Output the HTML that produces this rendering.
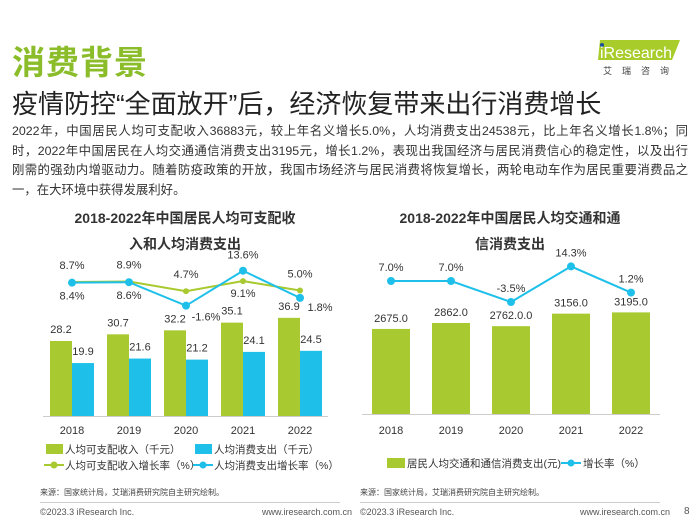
<!DOCTYPE html>
<html><head><meta charset="utf-8">
<style>
body{margin:0;width:700px;height:525px;background:#fff;font-family:"Liberation Sans","Noto Sans CJK SC",sans-serif;overflow:hidden;position:relative}
.abs{position:absolute;white-space:nowrap}
.pl{width:676px;text-align:justify;text-align-last:justify;white-space:nowrap;height:19.5px}
</style></head><body>
<div class="abs" style="left:12px;top:36px;font-size:33px;color:#8bbd2a;font-weight:bold;letter-spacing:1px">消费背景</div>
<div class="abs" style="left:578px;top:38px;width:112px;height:40px">
<svg width="112" height="40"><polygon points="22,2 102,2 94,22 20,22" fill="#a8cc2a"/><circle cx="24" cy="7" r="2" fill="#1a4f9c"/><text x="22" y="20" font-size="16" fill="#fff" font-family="Liberation Sans">iResearch</text><text x="25" y="36" font-size="9" fill="#444" letter-spacing="10">艾瑞咨询</text></svg></div>
<div class="abs" style="left:12px;top:84px;font-size:26px;color:#222">疫情防控“全面放开”后，经济恢复带来出行消费增长</div>
<div class="abs" style="left:12px;top:122px;font-size:12.4px;line-height:19.5px;color:#333">
<div class="pl">2022年，中国居民人均可支配收入36883元，较上年名义增长5.0%，人均消费支出24538元，比上年名义增长1.8%；同</div>
<div class="pl">时，2022年中国居民在人均交通通信消费支出3195元，增长1.2%，表现出我国经济与居民消费信心的稳定性，以及出行</div>
<div class="pl">刚需的强劲内增驱动力。随着防疫政策的开放，我国市场经济与居民消费将恢复增长，两轮电动车作为居民重要消费品之</div>
<div>一，在大环境中获得发展利好。</div>
</div>
<svg class="abs" style="left:0;top:0" width="700" height="525" id="charts" font-family="Liberation Sans, Noto Sans CJK SC, sans-serif">
<text x="185" y="223" font-size="14" font-weight="bold" text-anchor="middle" fill="#333">2018-2022年中国居民人均可支配收</text>
<text x="185" y="249" font-size="14" font-weight="bold" text-anchor="middle" fill="#333">入和人均消费支出</text>
<text x="510" y="223" font-size="14" font-weight="bold" text-anchor="middle" fill="#333">2018-2022年中国居民人均交通和通</text>
<text x="510" y="249" font-size="14" font-weight="bold" text-anchor="middle" fill="#333">信消费支出</text>
<g id="left"></g><g id="right"></g>
</svg>
<div class="abs" style="left:40px;top:487px;font-size:8px;color:#444">来源：国家统计局，艾瑞消费研究院自主研究绘制。</div>
<div class="abs" style="left:360px;top:487px;font-size:8px;color:#444">来源：国家统计局，艾瑞消费研究院自主研究绘制。</div>
<div class="abs" style="left:40px;top:502px;width:300px;border-top:1px solid #ccc"></div>
<div class="abs" style="left:360px;top:502px;width:300px;border-top:1px solid #ccc"></div>
<div class="abs" style="left:40px;top:507px;font-size:9px;color:#555">©2023.3 iResearch Inc.</div>
<div class="abs" style="left:262px;top:507px;font-size:9px;color:#555">www.iresearch.com.cn</div>
<div class="abs" style="left:360px;top:507px;font-size:9px;color:#555">©2023.3 iResearch Inc.</div>
<div class="abs" style="left:580px;top:507px;font-size:9px;color:#555">www.iresearch.com.cn</div>
<div class="abs" style="left:684px;top:506px;font-size:10px;color:#555">8</div>
<script>
const years=["2018","2019","2020","2021","2022"];
const income=[28.2,30.7,32.2,35.1,36.9];
const spend=[19.9,21.6,21.2,24.1,24.5];
const incomeGrowth=[8.7,8.9,4.7,9.1,5.0];
const spendGrowth=[8.4,8.6,-1.6,13.6,1.8];
const transport=[2675.0,2862.0,2762.0,3156.0,3195.0];
const transportLabels=["2675.0","2862.0","2762.0.0","3156.0","3195.0"];
const transportGrowth=[7.0,7.0,-3.5,14.3,1.2];
const G="#a8c92f",B="#1ec0ea",NS="http://www.w3.org/2000/svg";
function mk(p,t,a,txt){const e=document.createElementNS(NS,t);for(const k in a)e.setAttribute(k,a[k]);if(txt!=null)e.textContent=txt;p.appendChild(e);return e;}
const L=document.getElementById('left');
const lx=i=>72+57*i, lyB=v=>416-2.66*v, lyL=v=>302-2.3*v;
const ax1=mk(L,'line',{x1:43,x2:328,y1:416.5,y2:416.5,stroke:'#ccc'});

years.forEach((y,i)=>{
 const t=mk(L,'text',{x:lx(i),y:434,'font-size':11,'text-anchor':'middle',fill:'#333'},y);
 
 const g=mk(L,'rect',{x:lx(i)-22,y:lyB(income[i]),width:22,height:416-lyB(income[i]),fill:G});
 
 const b=mk(L,'rect',{x:lx(i),y:lyB(spend[i]),width:22,height:416-lyB(spend[i]),fill:B});
 
 const gl=mk(L,'text',{x:lx(i)-11,y:lyB(income[i])-8,'font-size':11,'text-anchor':'middle',fill:'#333'},income[i].toFixed(1));
 
 const bl=mk(L,'text',{x:lx(i)+11,y:lyB(spend[i])-8,'font-size':11,'text-anchor':'middle',fill:'#333'},spend[i].toFixed(1));
 
});
function line(P,xf,yf,vals,col,name){
 const l=mk(P,'polyline',{points:vals.map((v,i)=>xf(i)+','+yf(v)).join(' '),fill:'none',stroke:col,'stroke-width':2});
 
 vals.forEach((v,i)=>{const c=mk(P,'circle',{cx:xf(i),cy:yf(v),r:name==='income-growth-line'?3:4,fill:col});
 });
}
line(L,lx,lyL,incomeGrowth,G,'income-growth-line');
line(L,lx,lyL,spendGrowth,B,'spend-growth-line');
const gOff=[[0,-13],[0,-13],[0,-13],[0,16],[0,-13]];
const bOff=[[0,17],[0,17],[20,15],[0,-12],[20,13]];
incomeGrowth.forEach((v,i)=>{const t=mk(L,'text',{x:lx(i)+gOff[i][0],y:lyL(v)+gOff[i][1],'font-size':11,'text-anchor':'middle',fill:'#333'},v.toFixed(1)+'%');
 });
spendGrowth.forEach((v,i)=>{const t=mk(L,'text',{x:lx(i)+bOff[i][0],y:lyL(v)+bOff[i][1],'font-size':11,'text-anchor':'middle',fill:'#333'},v.toFixed(1)+'%');
 });
const lg=[[46,449,'rect',G,'人均可支配收入（千元）'],[195,449,'rect',B,'人均消费支出（千元）'],[46,465,'line',G,'人均可支配收入增长率（%）'],[195,465,'line',B,'人均消费支出增长率（%）']];
lg.forEach(d=>{
 if(d[2]==='rect'){const r=mk(L,'rect',{x:d[0],y:d[1]-5,width:17,height:10,fill:d[3]});}
 else{mk(L,'line',{x1:d[0]-2,x2:d[0]+18,y1:d[1],y2:d[1],stroke:d[3],'stroke-width':2});const c=mk(L,'circle',{cx:d[0]+8,cy:d[1],r:3.5,fill:d[3]});}
 const t=mk(L,'text',{x:d[0]+19,y:d[1]+4,'font-size':10.5,fill:'#333'},d[4]);
});
const R=document.getElementById('right');
const rx=i=>391+60*i, ryB=v=>414-0.0318*v, ryL=v=>295-2*v;
const ax2=mk(R,'line',{x1:362,x2:660,y1:414.5,y2:414.5,stroke:'#ccc'});

years.forEach((y,i)=>{
 const t=mk(R,'text',{x:rx(i),y:434,'font-size':11,'text-anchor':'middle',fill:'#333'},y);
 
 const b=mk(R,'rect',{x:rx(i)-19,y:ryB(transport[i]),width:38,height:414-ryB(transport[i]),fill:G});
 
 const l=mk(R,'text',{x:rx(i),y:ryB(transport[i])-7,'font-size':11,'text-anchor':'middle',fill:'#333'},transportLabels[i]);
 
});
line(R,rx,ryL,transportGrowth,B,'transport-growth-line');
transportGrowth.forEach((v,i)=>{const t=mk(R,'text',{x:rx(i),y:ryL(v)-10,'font-size':11,'text-anchor':'middle',fill:'#333'},v.toFixed(1)+'%');
 });
const rs=mk(R,'rect',{x:387,y:458,width:18,height:10,fill:G});
const rt=mk(R,'text',{x:407,y:467,'font-size':10.5,fill:'#333'},'居民人均交通和通信消费支出(元)');
mk(R,'line',{x1:561,x2:581,y1:463,y2:463,stroke:B,'stroke-width':2});
const rc=mk(R,'circle',{cx:571,cy:463,r:3.5,fill:B});
const rt2=mk(R,'text',{x:583,y:467,'font-size':10.5,fill:'#333'},'增长率（%）');
</script>
</body></html>
